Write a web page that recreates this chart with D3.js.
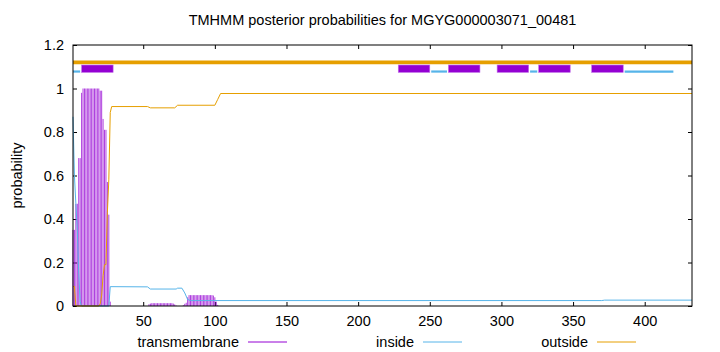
<!DOCTYPE html>
<html>
<head>
<meta charset="utf-8">
<script src="https://cdn.jsdelivr.net/npm/d3@7"></script>
<style>
  body { margin: 0; background: #fff; }
  svg text { font-family: "Liberation Sans", Arial, sans-serif; font-size: 14.5px; fill: #000; }
</style>
</head>
<body>
<div id="plot_div"></div>
<script>
var seq_length = 433;
var chart_title = "TMHMM posterior probabilities for MGYG000003071_00481";

// transmembrane posterior (residue, probability), only where it is above zero
var tm_probs = [
  [1, 0.35], [2, 0.35], [3, 0.47], [4, 0.47], [5, 0.68], [6, 0.68], [7, 0.98],
  [8, 1.0], [9, 1.0], [10, 1.0], [11, 1.0], [12, 1.0], [13, 1.0], [14, 1.0],
  [15, 1.0], [16, 1.0], [17, 1.0], [18, 1.0], [19, 1.0], [20, 0.99], [21, 0.99],
  [22, 0.86], [23, 0.81], [24, 0.81], [25, 0.57], [26, 0.42], [27, 0.02],
  [54, 0.008], [55, 0.011], [56, 0.013], [57, 0.013], [58, 0.013], [59, 0.013],
  [60, 0.013], [61, 0.013], [62, 0.013], [63, 0.013], [64, 0.013], [65, 0.013],
  [66, 0.013], [67, 0.013], [68, 0.013], [69, 0.013], [70, 0.013], [71, 0.011],
  [72, 0.007], [73, 0.002],
  [78, 0.004], [79, 0.01], [80, 0.015], [81, 0.04], [82, 0.05], [83, 0.05],
  [84, 0.05], [85, 0.05], [86, 0.05], [87, 0.05], [88, 0.05], [89, 0.05],
  [90, 0.05], [91, 0.05], [92, 0.05], [93, 0.05], [94, 0.05], [95, 0.05],
  [96, 0.05], [97, 0.05], [98, 0.05], [99, 0.048], [100, 0.04], [101, 0.02],
  [102, 0.005]
];

// inside posterior, points where the curve changes
var inside_probs = [
  [1, 0.87], [2, 0.6], [3, 0.47], [4, 0.35], [5, 0.15], [6, 0.02], [7, 0],
  [26, 0], [27, 0.089], [53, 0.088], [55, 0.078], [73, 0.078], [74, 0.082],
  [77, 0.082], [79, 0.06], [81, 0.03], [83, 0.025], [370, 0.025], [372, 0.027],
  [433, 0.027]
];

// outside posterior, points where the curve changes
var outside_probs = [
  [1, 0.09], [2, 0.09], [3, 0], [19, 0], [20, 0.01], [21, 0.05], [22, 0.14],
  [23, 0.19], [24, 0.19], [25, 0.43], [26, 0.58], [27, 0.89], [28, 0.917],
  [53, 0.917], [55, 0.911], [72, 0.911], [74, 0.923], [100, 0.923],
  [102, 0.95], [104, 0.977], [433, 0.977]
];

// predicted topology drawn above the curves
var tm_segments = [[7, 29], [228, 250], [263, 285], [297, 319], [326, 348], [363, 385]];
var inside_segments = [[1, 6], [251, 262], [320, 325], [386, 420]];
var outside_segments = [[1, 433]];

var x_ticks = [50, 100, 150, 200, 250, 300, 350, 400];
var y_ticks = [0, 0.2, 0.4, 0.6, 0.8, 1, 1.2];

var legend_names = ["transmembrane", "inside", "outside"];
var colors = { tm: "#9400d3", inside: "#56b4e9", outside: "#e69f00" };

var chart_width = 720;
var chart_height = 352;
var plot_left = 73, plot_right = 692, plot_top = 45, plot_bottom = 306;

var chart = d3.select("#plot_div").append("svg")
    .attr("width", chart_width)
    .attr("height", chart_height);

var x = d3.scaleLinear().domain([1, seq_length]).range([plot_left, plot_right]);
var y = d3.scaleLinear().domain([0, 1.2]).range([plot_bottom, plot_top]);

// axes, ticks pointing inward like gnuplot
var fmt = d3.format("~g");
chart.append("g")
    .attr("transform", "translate(0," + plot_bottom + ")")
    .call(d3.axisBottom(x).tickValues(x_ticks).tickSizeInner(-4).tickSizeOuter(0).tickPadding(10));
chart.append("g")
    .attr("transform", "translate(0," + plot_top + ")")
    .call(d3.axisTop(x).tickValues(x_ticks).tickSizeInner(-4).tickSizeOuter(0).tickFormat(""));
chart.append("g")
    .attr("transform", "translate(" + plot_left + ",0)")
    .call(d3.axisLeft(y).tickValues(y_ticks).tickFormat(fmt).tickSizeInner(-4).tickSizeOuter(0).tickPadding(9));
chart.append("g")
    .attr("transform", "translate(" + plot_right + ",0)")
    .call(d3.axisRight(y).tickValues(y_ticks).tickSizeInner(-4).tickSizeOuter(0).tickFormat(""));
chart.selectAll(".domain").remove();
chart.selectAll(".tick line").attr("stroke", "#000");
chart.selectAll(".tick text").attr("font-family", null).attr("font-size", null);

// transmembrane impulses
chart.append("g").selectAll("line")
    .data(tm_probs)
    .enter().append("line")
    .attr("x1", function(d) { return x(d[0]); })
    .attr("x2", function(d) { return x(d[0]); })
    .attr("y1", y(0))
    .attr("y2", function(d) { return y(d[1]); })
    .attr("stroke", colors.tm)
    .attr("stroke-opacity", 0.85)
    .attr("stroke-width", 0.9);

var line = d3.line()
    .x(function(d) { return x(d[0]); })
    .y(function(d) { return y(d[1]); });

chart.append("path")
    .datum(inside_probs)
    .attr("d", line)
    .attr("fill", "none")
    .attr("stroke", colors.inside)
    .attr("stroke-width", 1);

chart.append("path")
    .datum(outside_probs)
    .attr("d", line)
    .attr("fill", "none")
    .attr("stroke", colors.outside)
    .attr("stroke-width", 1);

// topology bars
chart.append("g").selectAll("line")
    .data(outside_segments)
    .enter().append("line")
    .attr("x1", function(d) { return x(d[0]); })
    .attr("x2", function(d) { return x(d[1]); })
    .attr("y1", y(1.12))
    .attr("y2", y(1.12))
    .attr("stroke", colors.outside)
    .attr("stroke-width", 3.7);

chart.append("g").selectAll("line")
    .data(inside_segments)
    .enter().append("line")
    .attr("x1", function(d) { return x(d[0]); })
    .attr("x2", function(d) { return x(d[1]); })
    .attr("y1", y(1.078))
    .attr("y2", y(1.078))
    .attr("stroke", colors.inside)
    .attr("stroke-width", 2.2);

chart.append("g").selectAll("rect")
    .data(tm_segments)
    .enter().append("rect")
    .attr("x", function(d) { return x(d[0]); })
    .attr("width", function(d) { return x(d[1]) - x(d[0]); })
    .attr("y", y(1.108))
    .attr("height", y(1.074) - y(1.108))
    .attr("fill", colors.tm)
    .attr("stroke", "#c070e8")
    .attr("stroke-width", 0.6);

// frame
chart.append("rect")
    .attr("x", plot_left)
    .attr("y", plot_top)
    .attr("width", plot_right - plot_left)
    .attr("height", plot_bottom - plot_top)
    .attr("fill", "none")
    .attr("stroke", "#000")
    .attr("stroke-width", 1);

chart.append("text")
    .attr("x", (plot_left + plot_right) / 2)
    .attr("y", 25)
    .attr("text-anchor", "middle")
    .text(chart_title);

chart.append("text")
    .attr("transform", "translate(22," + ((plot_top + plot_bottom) / 2) + ") rotate(-90)")
    .attr("text-anchor", "middle")
    .text("probability");

// legend along the bottom
var legend_ends = [239, 414, 588];
var legend_colors = [colors.tm, colors.inside, colors.outside];
var legend = chart.append("g").selectAll("g")
    .data(legend_names)
    .enter().append("g")
    .attr("transform", function(d, i) { return "translate(" + legend_ends[i] + ",342)"; });
legend.append("text")
    .attr("text-anchor", "end")
    .attr("dy", "0.35em")
    .text(function(d) { return d; });
legend.append("line")
    .attr("x1", 9).attr("x2", 48)
    .attr("y1", 0).attr("y2", 0)
    .attr("stroke", function(d, i) { return legend_colors[i]; })
    .attr("stroke-width", 1);
</script>
</body>
</html>
